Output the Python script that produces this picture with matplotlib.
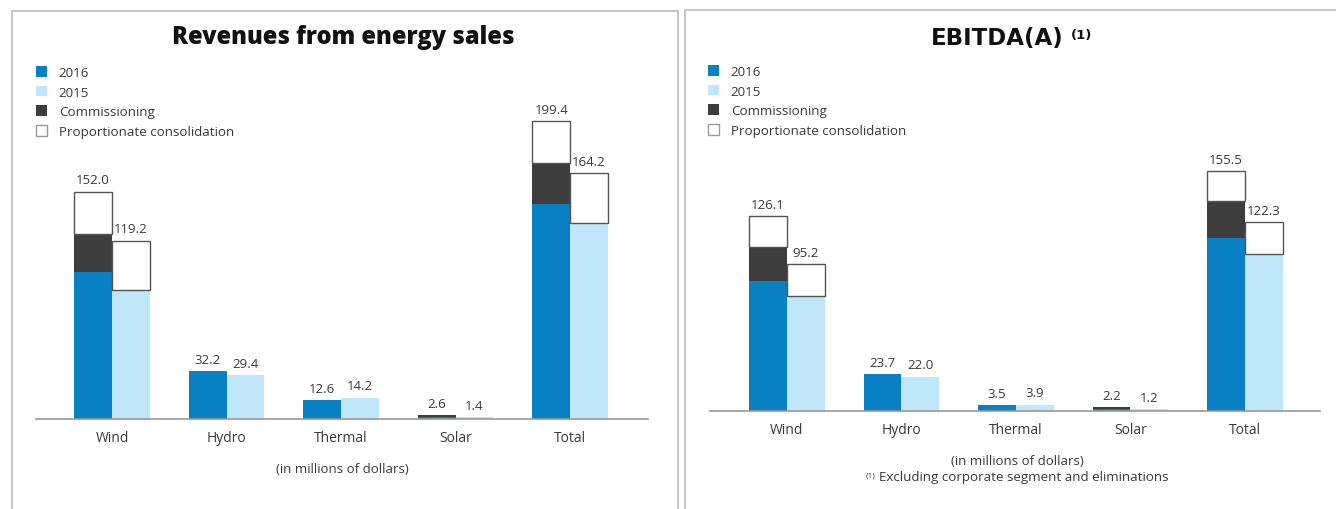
import matplotlib
matplotlib.use("Agg")
import matplotlib.pyplot as plt
import numpy as np
from matplotlib.patches import Patch, Rectangle

plt.rcParams["font.family"] = ["Open Sans", "DejaVu Sans"]

categories = ["Wind", "Hydro", "Thermal", "Solar", "Total"]
legend_labels = ["2016", "2015", "Commissioning", "Proportionate consolidation"]

# revenues (in millions of dollars)
rev_2016 = [98.0, 32.2, 12.6, 1.2, 144.0]
rev_comm = [26.0, 0.0, 0.0, 1.4, 27.4]
rev_prop_2016 = [28.0, 0.0, 0.0, 0.0, 28.0]
rev_2015 = [86.0, 29.4, 14.2, 1.4, 131.0]
rev_prop_2015 = [33.2, 0.0, 0.0, 0.0, 33.2]

# EBITDA(A)
ebitda_2016 = [84.0, 23.7, 3.5, 0.8, 112.0]
ebitda_comm = [22.4, 0.0, 0.0, 1.4, 23.8]
ebitda_prop_2016 = [19.7, 0.0, 0.0, 0.0, 19.7]
ebitda_2015 = [74.6, 22.0, 3.9, 1.2, 101.7]
ebitda_prop_2015 = [20.6, 0.0, 0.0, 0.0, 20.6]

blue = "#0a80c4"
light = "#c0e7f9"
dark = "#3d3d3d"
edge = "#555555"
txt = "#3a3a3a"

W, H = 1336, 510
fig = plt.figure(figsize=(W / 100, H / 100), dpi=100)


def fx(px):
    return px / W


def fy(py):
    return 1 - py / H


def draw_panel(rect, xlim, ytop, b16, c16, p16, b15, p15, legend_xy):
    ax = fig.add_axes(rect)
    x = np.arange(len(categories))
    w = 0.33
    b16, c16, p16 = np.array(b16), np.array(c16), np.array(p16)
    b15, p15 = np.array(b15), np.array(p15)

    ax.bar(x - w / 2, b16, w, color=blue, lw=0)
    ax.bar(x - w / 2, c16, w, bottom=b16, color=dark, lw=0)
    m = p16 > 0
    ax.bar(x[m] - w / 2, p16[m], w, bottom=(b16 + c16)[m], facecolor="white", edgecolor=edge, lw=1)

    ax.bar(x + w / 2, b15, w, color=light, lw=0)
    m = p15 > 0
    ax.bar(x[m] + w / 2, p15[m], w, bottom=b15[m], facecolor="white", edgecolor=edge, lw=1)

    tot16 = b16 + c16 + p16
    tot15 = b15 + p15
    for i in x:
        ax.annotate("%.1f" % tot16[i], (i - w / 2, tot16[i]), xytext=(0, 8.5), textcoords="offset points",
                    ha="center", va="center", fontsize=9.5, color=txt)
        ax.annotate("%.1f" % tot15[i], (i + w / 2, tot15[i]), xytext=(0, 8.5), textcoords="offset points",
                    ha="center", va="center", fontsize=9.5, color=txt)

    ax.set_xlim(*xlim)
    ax.set_ylim(0, ytop)
    ax.set_xticks(x, categories)
    ax.set_yticks([])
    ax.tick_params(axis="x", length=0, pad=8, labelsize=10, labelcolor=txt)
    for s in ["top", "left", "right"]:
        ax.spines[s].set_visible(False)
    ax.spines["bottom"].set_color("#9a9a9a")
    ax.spines["bottom"].set_linewidth(1.2)

    handles = [Patch(facecolor=blue), Patch(facecolor=light), Patch(facecolor=dark),
               Patch(facecolor="white", edgecolor="#999999", lw=1)]
    ax.legend(handles, legend_labels, loc="upper left", bbox_to_anchor=legend_xy, bbox_transform=fig.transFigure,
              frameon=False, fontsize=9.6, handlelength=0.85, handleheight=0.85, handletextpad=0.85,
              labelspacing=0.5, borderpad=0, borderaxespad=0, labelcolor=txt)
    return ax


# left panel: revenues
draw_panel([fx(36), fy(420), fx(648 - 36), (420 - 110) / H], (-0.664, 4.68), (420 - 110) / 1.4954,
           rev_2016, rev_comm, rev_prop_2016, rev_2015, rev_prop_2015, (fx(36), fy(67)))

# right panel: EBITDA(A)
draw_panel([fx(710), fy(411.7), fx(1320 - 710), (411.7 - 110) / H], (-0.672, 4.655), (411.7 - 110) / 1.5416,
           ebitda_2016, ebitda_comm, ebitda_prop_2016, ebitda_2015, ebitda_prop_2015, (fx(708), fy(66)))

# panel frames
fig.add_artist(Rectangle((fx(12), -0.1), fx(678 - 12), fy(12) + 0.1, transform=fig.transFigure,
                         fill=False, edgecolor="#c8c8c8", lw=1.5))
fig.add_artist(Rectangle((fx(685), -0.1), 0.6, fy(11) + 0.1, transform=fig.transFigure,
                         fill=False, edgecolor="#c8c8c8", lw=1.5))

# titles
fig.text(fx(343), fy(37), "Revenues from energy sales", ha="center", va="center",
         fontsize=17, fontweight="heavy", color="#111111")
fig.text(fx(997), fy(39), "EBITDA(A)", ha="center", va="center", fontsize=16.5,
         fontweight="bold", family="DejaVu Sans", color="#111111")
fig.text(fx(1082), fy(35), "(1)", ha="center", va="center", fontsize=9.5,
         fontweight="bold", family="DejaVu Sans", color="#111111")

# footers
fig.text(fx(342), fy(470), "(in millions of dollars)", ha="center", va="center", fontsize=9.5, color=txt)
fig.text(fx(1017), fy(462), "(in millions of dollars)", ha="center", va="center", fontsize=9.5, color=txt)
fig.text(fx(866), fy(476), "(1)", ha="left", va="center", fontsize=6, color=txt)
fig.text(fx(879), fy(478), "Excluding corporate segment and eliminations", ha="left", va="center",
         fontsize=9.6, color=txt)

plt.savefig("out.png", dpi=100)
